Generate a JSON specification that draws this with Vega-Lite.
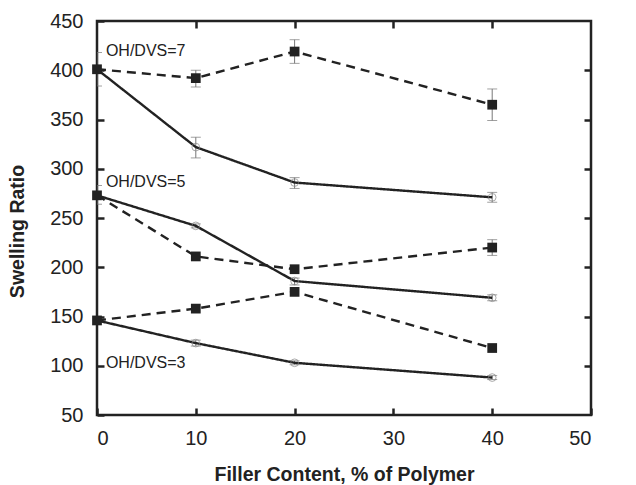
{
  "$schema": "https://vega.github.io/schema/vega-lite/v6.json",
  "width": 494,
  "height": 394,
  "autosize": "none",
  "padding": {"left": 97, "top": 21, "right": 45, "bottom": 70},
  "background": "white",
  "config": {
    "view": {"stroke": "#222", "strokeWidth": 2.5},
    "axis": {
      "labelFont": "Liberation Sans", "labelFontSize": 20, "labelColor": "#222",
      "titleFont": "Liberation Sans", "titleFontSize": 19.5, "titleFontWeight": "bold", "titleColor": "#222",
      "tickColor": "#222", "tickWidth": 2.5, "tickSize": -7, "domain": false, "grid": false
    }
  },
  "data": {"values": [
    {"g": "7", "s": "dashed", "x": 0, "y": 401, "lo": 384, "hi": 418},
    {"g": "7", "s": "dashed", "x": 10, "y": 392, "lo": 383, "hi": 400},
    {"g": "7", "s": "dashed", "x": 20, "y": 419, "lo": 407, "hi": 431},
    {"g": "7", "s": "dashed", "x": 40, "y": 365, "lo": 349, "hi": 381},
    {"g": "7", "s": "solid", "x": 0, "y": 401},
    {"g": "7", "s": "solid", "x": 10, "y": 322, "lo": 311, "hi": 332},
    {"g": "7", "s": "solid", "x": 20, "y": 286, "lo": 280, "hi": 291},
    {"g": "7", "s": "solid", "x": 40, "y": 271, "lo": 266, "hi": 276},
    {"g": "5", "s": "dashed", "x": 0, "y": 273, "lo": 264, "hi": 283},
    {"g": "5", "s": "dashed", "x": 10, "y": 211},
    {"g": "5", "s": "dashed", "x": 20, "y": 198},
    {"g": "5", "s": "dashed", "x": 40, "y": 220, "lo": 212, "hi": 228},
    {"g": "5", "s": "solid", "x": 0, "y": 273},
    {"g": "5", "s": "solid", "x": 10, "y": 242, "lo": 240, "hi": 244},
    {"g": "5", "s": "solid", "x": 20, "y": 186, "lo": 182, "hi": 189},
    {"g": "5", "s": "solid", "x": 40, "y": 169, "lo": 166, "hi": 172},
    {"g": "3", "s": "dashed", "x": 0, "y": 146},
    {"g": "3", "s": "dashed", "x": 10, "y": 158},
    {"g": "3", "s": "dashed", "x": 20, "y": 175},
    {"g": "3", "s": "dashed", "x": 40, "y": 118},
    {"g": "3", "s": "solid", "x": 0, "y": 146},
    {"g": "3", "s": "solid", "x": 10, "y": 123, "lo": 120, "hi": 126},
    {"g": "3", "s": "solid", "x": 20, "y": 103, "lo": 101, "hi": 105},
    {"g": "3", "s": "solid", "x": 40, "y": 88, "lo": 86, "hi": 90}
  ]},
  "resolve": {"axis": {"x": "independent", "y": "independent"}},
  "layer": [
    {
      "mark": {"type": "rule", "color": "#777", "strokeWidth": 1, "clip": true},
      "encoding": {
        "x": {"field": "x", "type": "quantitative", "scale": {"domain": [0, 50], "nice": false},
              "axis": {"orient": "bottom", "values": [0, 10, 20, 30, 40, 50], "labelPadding": 20, "title": "Filler Content, % of Polymer", "titlePadding": 17}},
        "y": {"field": "lo", "type": "quantitative", "scale": {"domain": [50, 450], "nice": false},
              "axis": {"orient": "left", "values": [50, 100, 150, 200, 250, 300, 350, 400, 450], "labelPadding": 21, "title": "Swelling Ratio", "titlePadding": 22, "titleY": 210}},
        "y2": {"field": "hi"}
      }
    },
    {
      "mark": {"type": "tick", "orient": "horizontal", "color": "#777", "thickness": 1, "size": 10, "clip": true},
      "encoding": {
        "x": {"field": "x", "type": "quantitative", "axis": {"orient": "top", "values": [10, 20, 30, 40], "labels": false, "title": null}},
        "y": {"field": "lo", "type": "quantitative", "axis": {"orient": "right", "values": [100, 150, 200, 250, 300, 350, 400], "labels": false, "title": null}}
      }
    },
    {
      "mark": {"type": "tick", "orient": "horizontal", "color": "#777", "thickness": 1, "size": 10, "clip": true},
      "encoding": {
        "x": {"field": "x", "type": "quantitative", "axis": null},
        "y": {"field": "hi", "type": "quantitative", "axis": null}
      }
    },
    {
      "mark": {"type": "line", "color": "#222", "strokeWidth": 2.4},
      "encoding": {
        "x": {"field": "x", "type": "quantitative", "axis": null},
        "y": {"field": "y", "type": "quantitative", "axis": null},
        "detail": {"field": "g"},
        "strokeDash": {"field": "s", "type": "nominal", "scale": {"domain": ["solid", "dashed"], "range": [[1, 0], [9, 6]]}, "legend": null}
      }
    },
    {
      "transform": [{"filter": "datum.s === 'solid'"}],
      "mark": {"type": "point", "shape": "circle", "filled": false, "stroke": "#888", "strokeWidth": 1, "size": 60},
      "encoding": {
        "x": {"field": "x", "type": "quantitative", "axis": null},
        "y": {"field": "y", "type": "quantitative", "axis": null}
      }
    },
    {
      "transform": [{"filter": "datum.s === 'dashed'"}],
      "mark": {"type": "point", "shape": "square", "filled": true, "color": "#222", "opacity": 1, "size": 95},
      "encoding": {
        "x": {"field": "x", "type": "quantitative", "axis": null},
        "y": {"field": "y", "type": "quantitative", "axis": null}
      }
    },
    {
      "data": {"values": [
        {"x": 0.9, "y": 419.5, "label": "OH/DVS=7"},
        {"x": 0.9, "y": 286.5, "label": "OH/DVS=5"},
        {"x": 0.9, "y": 102.5, "label": "OH/DVS=3"}
      ]},
      "mark": {"type": "text", "align": "left", "baseline": "middle", "font": "Liberation Sans", "fontSize": 16, "color": "#222"},
      "encoding": {
        "x": {"field": "x", "type": "quantitative", "axis": null},
        "y": {"field": "y", "type": "quantitative", "axis": null},
        "text": {"field": "label"}
      }
    }
  ]
}
